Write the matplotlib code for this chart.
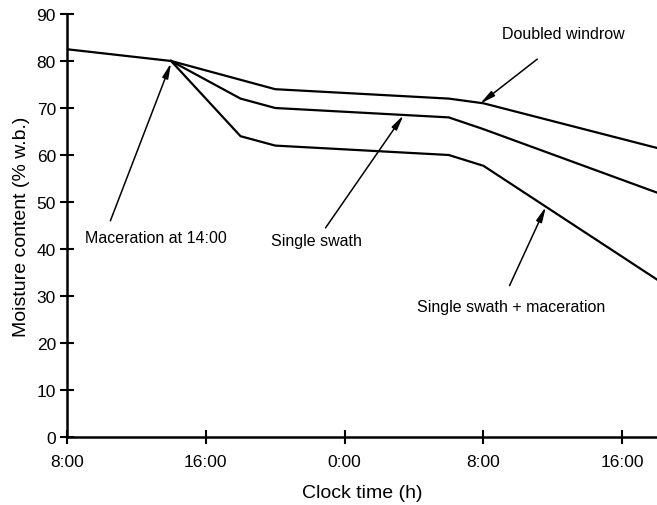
import matplotlib
matplotlib.use("Agg")
import matplotlib.pyplot as plt

# hours since 8:00 on day 1
common_t = [0, 6]
common_m = [82.5, 80.0]

doubled_t = [6, 12, 22, 24, 34]
doubled_m = [80.0, 74.0, 72.0, 71.0, 61.5]

single_t = [6, 10, 12, 22, 24, 34]
single_m = [80.0, 72.0, 70.0, 68.0, 65.5, 52.0]

macer_t = [6, 10, 12, 22, 24, 34]
macer_m = [80.0, 64.0, 62.0, 60.0, 57.7, 33.5]

xticks = [0, 8, 16, 24, 32]
xticklabels = ["8:00", "16:00", "0:00", "8:00", "16:00"]
yticks = list(range(0, 91, 10))

plt.rcParams['font.family'] = ['Liberation Sans', 'DejaVu Sans']

fig = plt.figure(figsize=(6.57, 5.06), dpi=100)
ax = fig.add_axes([67/657, 68/506, 590/657, 423/506])

lw = 1.6
for t, m in [(common_t, common_m), (doubled_t, doubled_m), (single_t, single_m), (macer_t, macer_m)]:
    ax.plot(t, m, color='black', lw=lw, solid_joinstyle='round')

ax.set_xlim(0, 34)
ax.set_ylim(0, 90)
ax.set_xticks(xticks)
ax.set_xticklabels(xticklabels)
ax.set_yticks(yticks)
for s in ['top', 'right']:
    ax.spines[s].set_visible(False)
for s in ['left', 'bottom']:
    ax.spines[s].set_linewidth(1.8)
ax.tick_params(direction='inout', length=10, width=1.5, labelsize=12.5, colors='black')
ax.tick_params(axis='x', pad=7)
ax.tick_params(axis='y', pad=3)
ax.set_xlabel("Clock time (h)", fontsize=14, labelpad=11)
ax.set_ylabel("Moisture content (% w.b.)", fontsize=14, labelpad=5)

ap = dict(arrowstyle='-|>,head_length=0.9,head_width=0.18', color='black', lw=1.1, shrinkA=0, shrinkB=0)
fs = 11.5
ax.annotate("", xy=(6.0, 79.6), xytext=(2.5, 46.0), arrowprops=ap)
ax.text(1.05, 42.5, "Maceration at 14:00", fontsize=fs, va='center', ha='left')

ax.annotate("", xy=(19.4, 68.5), xytext=(14.9, 44.5), arrowprops=ap)
ax.text(14.4, 41.8, "Single swath", fontsize=fs, va='center', ha='center')

ax.annotate("", xy=(23.8, 70.9), xytext=(27.1, 80.4), arrowprops=ap)
ax.text(28.6, 85.8, "Doubled windrow", fontsize=fs, va='center', ha='center')

ax.annotate("", xy=(27.6, 49.0), xytext=(25.5, 32.2), arrowprops=ap)
ax.text(25.6, 27.7, "Single swath + maceration", fontsize=fs, va='center', ha='center')

fig.savefig("out.png", dpi=100)
